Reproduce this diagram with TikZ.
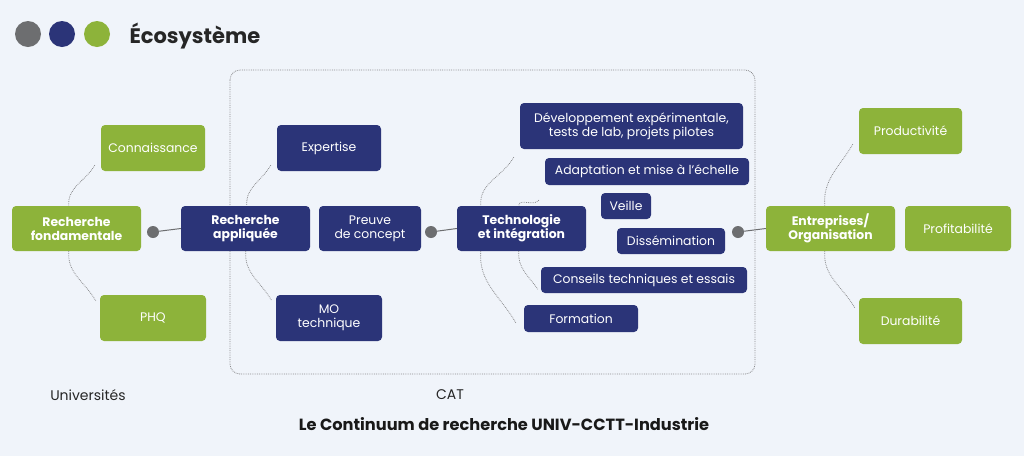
\documentclass[tikz,border=0pt]{standalone}
\usepackage{fontspec}
\setmainfont{Poppins}
\definecolor{bg}{HTML}{F0F4FA}
\definecolor{grn}{HTML}{8DB33A}
\definecolor{nav}{HTML}{2B3478}
\definecolor{gry}{HTML}{6D6E70}
\begin{document}
\begin{tikzpicture}[x=1pt,y=-1pt,
 box/.style={rounded corners=4pt,text=white,align=center,inner sep=0pt,font=\fontsize{12.4}{14}\selectfont},
 g/.style={box,fill=grn}, n/.style={box,fill=nav},
 arc/.style={gry!80,densely dotted,line width=0.8pt},
 dot/.style={circle,fill=gry,inner sep=0pt,minimum size=12pt}]
\fill[bg] (0,0) rectangle (1024,456);
\useasboundingbox (0,0) rectangle (1024,456);
\newcommand\bx[6]{\node[#1,minimum width=#4-#2,minimum height=#5-#3] (#6) at ({(#2+#4)/2},{(#3+#5)/2})}
\draw[gry!80,densely dotted,line width=0.8pt,rounded corners=10pt] (230,70) rectangle (755,374);
% header
\fill[gry] (28,34) circle (13); \fill[nav] (62,34) circle (13); \fill[grn] (97,34) circle (13);
\node[anchor=west,font=\bfseries\fontsize{21}{24}\selectfont,text=black!85] (eco) at (126,36) {Écosystème};
% boxes
\bx{g}{12}{206}{141}{251}{rf} {\textbf{Recherche}\\\textbf{fondamentale}};
\bx{g}{101}{125}{205}{171}{con} {Connaissance};
\bx{g}{100}{295}{206}{341}{phq} {PHQ};
\bx{n}{181}{206}{310}{251}{ra} {\textbf{Recherche}\\\textbf{appliquée}};
\bx{n}{277}{125}{381}{171}{exp} {Expertise};
\bx{n}{276}{295}{382}{341}{mo} {MO\\technique};
\bx{n}{319}{206}{421}{251}{pc} {Preuve\\de concept};
\bx{n}{457}{206}{586}{251}{ti} {\textbf{Technologie}\\\textbf{et intégration}};
\bx{n}{520}{103}{743}{149}{dev} {Développement expérimentale,\\tests de lab, projets pilotes};
\bx{n}{545}{158}{749}{185}{ada} {Adaptation et mise à l’échelle};
\bx{n}{601}{193}{651}{219}{vei} {Veille};
\bx{n}{617}{228}{725}{254}{dis} {Dissémination};
\bx{n}{541}{267}{747}{293}{cte} {Conseils techniques et essais};
\bx{n}{524}{305}{638}{332}{for} {Formation};
\bx{g}{766}{206}{895}{251}{eo} {\textbf{Entreprises/}\\\textbf{Organisation}};
\bx{g}{859}{108}{962}{154}{pro} {Productivité};
\bx{g}{905}{206}{1011}{251}{prf} {Profitabilité};
\bx{g}{859}{298}{962}{344}{dur} {Durabilité};
% connectors
\node[dot] (d1) at (153,232) {}; \draw[gry,line width=1pt] (d1) -- (ra.west);
\node[dot] (d2) at (431,232) {}; \draw[gry,line width=1pt] (d2) -- (ti.west);
\node[dot] (d3) at (738,232) {}; \draw[gry,line width=1pt] (d3) -- (eo.west);
% arcs
\draw[arc] ([xshift=-6pt,yshift=6pt]con.south west) to[out=240,in=95] ([xshift=57pt]rf.north west);
\draw[arc] ([xshift=57pt]rf.south west) to[out=265,in=120] ([xshift=-4pt,yshift=-6pt]phq.north west);
\draw[arc] ([xshift=-6pt,yshift=6pt]exp.south west) to[out=240,in=95] ([xshift=66pt]ra.north west);
\draw[arc] ([xshift=65pt]ra.south west) to[out=265,in=120] ([xshift=-4pt,yshift=-6pt]mo.north west);
\draw[arc] ([xshift=-6pt,yshift=-8pt]dev.south west) to[out=240,in=95] ([xshift=24pt]ti.north west);
\draw[arc] ([xshift=24pt]ti.south west) to[out=265,in=120] ([xshift=-8pt,yshift=-18pt]for.north west);
\draw[arc] ([xshift=-6pt,yshift=-15pt]ada.south west) to[out=235,in=95] ([xshift=62pt]ti.north west);
\draw[arc] ([xshift=62pt]ti.south west) to[out=265,in=125] ([xshift=-3pt,yshift=4pt]cte.south west);
\draw[arc] ([xshift=-6pt,yshift=10pt]pro.south west) to[out=240,in=95] ([xshift=59pt]eo.north west);
\draw[arc] ([xshift=59pt]eo.south west) to[out=265,in=120] ([xshift=-4pt,yshift=-10pt]dur.north west);
% labels
\node[font=\fontsize{14}{16}\selectfont,text=black!85] (uni) at (88,395) {Universités};
\node[font=\fontsize{14}{16}\selectfont,text=black!85] (cat) at (450,395) {CAT};
\node[font=\bfseries\fontsize{16.2}{18}\selectfont,text=black!90] (tit) at (504,424) {Le Continuum de recherche UNIV-CCTT-Industrie};
\end{tikzpicture}
\end{document}
